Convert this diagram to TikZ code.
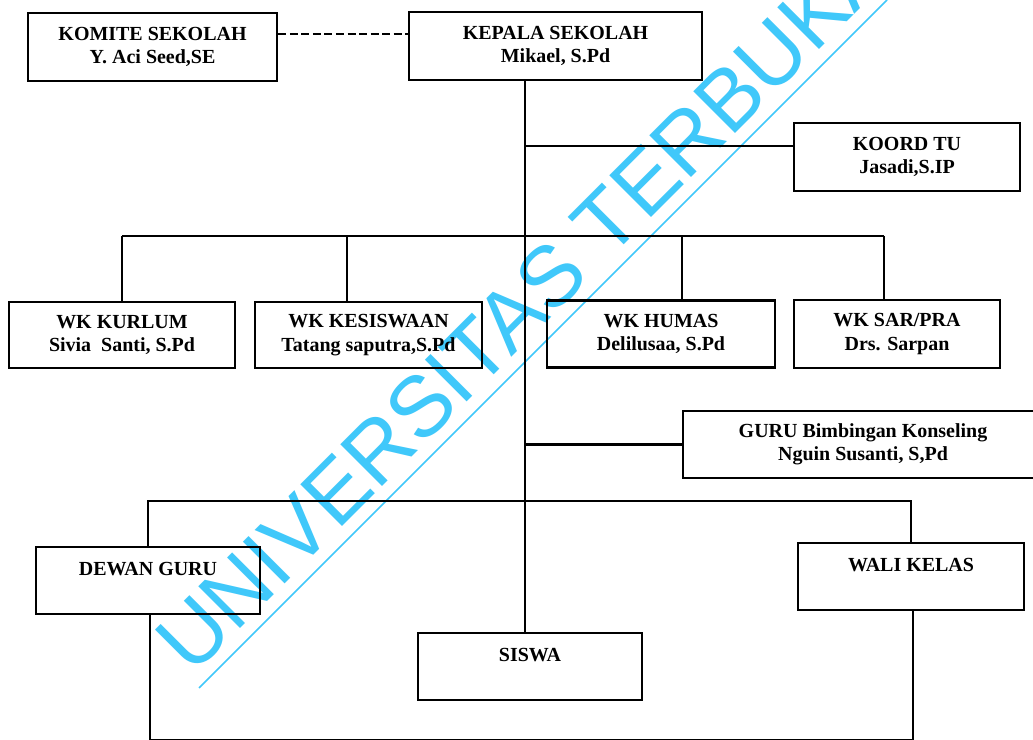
\documentclass[tikz,border=0pt]{standalone}
\usepackage{fontspec}
\setmainfont{Liberation Serif}
\newfontfamily\wmfont{Liberation Sans}
\definecolor{wmcyan}{RGB}{64,200,250}

\begin{document}
\begin{tikzpicture}[x=0.025cm,y=-0.025cm,
    jabatan/.style 2 args={draw,line width=1.9pt,align=center,inner sep=0pt,
        minimum width=#1*0.025cm,minimum height=#2*0.025cm,
        font=\bfseries\fontsize{14.2}{16.6}\selectfont},
    link/.style={line width=1.6pt},
    putus/.style={line width=2.1pt,dash pattern=on 5.7pt off 2.5pt},
    watermark/.style={text=wmcyan,font=\wmfont\fontsize{61}{63}\selectfont,inner sep=0pt}]
    % white page, same size as the scan
    \fill[white] (0,0) rectangle (1033,740);
    \useasboundingbox (0,0) rectangle (1033,740);

    % watermark first, so the chart lies on top of it
    \node[watermark,rotate=45,anchor=base west] (wm) at (192,677) {UNIVERSITAS TERBUKA};
    \draw[wmcyan,line width=1.2pt] (199,688) coordinate (wma) -- (887,0) coordinate (wmb);

    % top row
    \node[jabatan={249}{68}] (komite) at (152.5,47) {KOMITE SEKOLAH\\Y. Aci Seed,SE};
    \node[jabatan={293}{68}] (kepsek) at (555.5,46) {KEPALA SEKOLAH\\Mikael, S.Pd};
    \node[jabatan={226}{68}] (koordtu) at (907,157) {KOORD TU\\Jasadi,S.IP};

    % wakil kepala
    \node[jabatan={226}{66}] (wkkur) at (122,335) {WK KURLUM\\Sivia\ \ Santi, S.Pd};
    \node[jabatan={227}{66}] (wkkes) at (368.5,335) {WK KESISWAAN\\Tatang saputra,S.Pd};
    \node[jabatan={228}{67}] (wkhum) at (661,334) {WK HUMAS\\Delilusaa, S.Pd};
    \node[jabatan={206}{68}] (wksar) at (897,334) {WK SAR/PRA\\Drs. Sarpan};

    \node[jabatan={360}{67}] (gurubk) at (863,444.5) {GURU Bimbingan Konseling\\Nguin Susanti, S,Pd};

    % bottom group
    \node[jabatan={224}{67}] (dewan) at (148,580.5) {DEWAN GURU\\~};
    \node[jabatan={226}{67}] (wali) at (911,576.5) {WALI KELAS\\~};
    \node[jabatan={224}{67}] (siswa) at (530,666.5) {SISWA\\~};

    % lines
    \coordinate (t0) at (525,80);
    \draw[putus] ([yshift=0.325cm]komite.east) coordinate (d0) -- (kepsek.west |- d0);
    \draw[link] (t0) -- (siswa.north -| t0);
    \draw[link] ([yshift=0.275cm]koordtu.west) coordinate (k0) -- (k0 -| t0);
    \draw[link] (gurubk.west) -- (gurubk.west -| t0);

    \draw[link] (122,236) -- (884,236);
    \foreach \n/\x in {wkkur/122,wkkes/347,wkhum/682,wksar/884}
        \draw[link] (\x,236) -- (\n.north -| \x,0);

    \coordinate (bar) at (0,501);
    \draw[link] (dewan.north) -- (dewan.north |- bar) -- (wali.north |- bar) -- (wali.north);
    \coordinate (dasar) at (0,740);
    \draw[link] ([xshift=0.05cm]dewan.south) -- ([xshift=0.05cm]dewan.south |- dasar)
        -- ([xshift=0.05cm]wali.south |- dasar) -- ([xshift=0.05cm]wali.south);
\end{tikzpicture}
\end{document}
